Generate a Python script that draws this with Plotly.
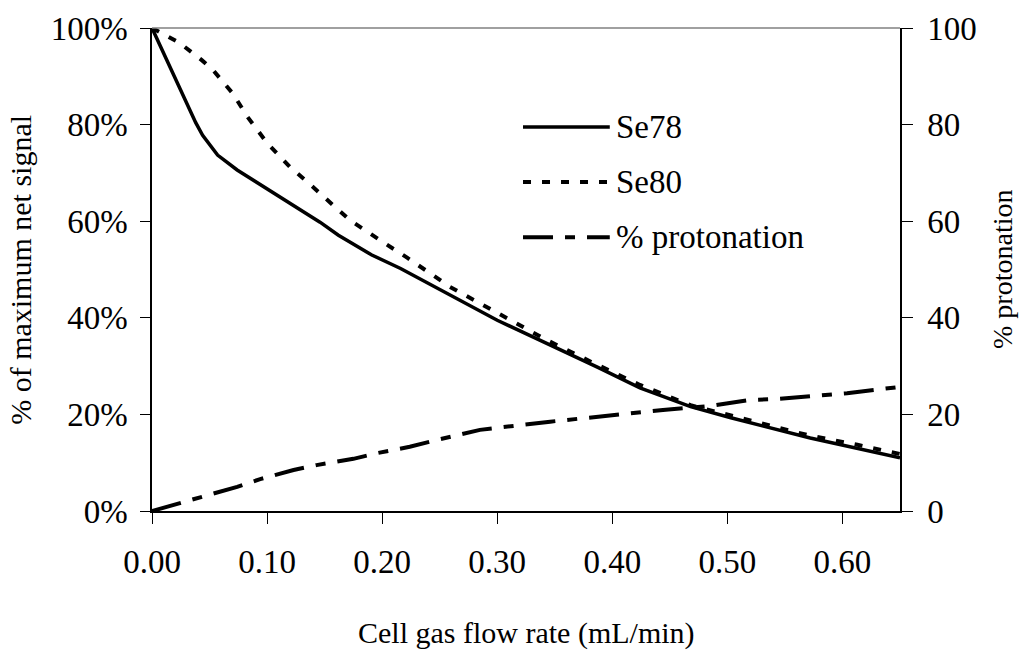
import plotly.graph_objects as go

# ---- data ----
flow_se78 = [0, 0.038, 0.044, 0.057, 0.074, 0.088, 0.114, 0.146, 0.162,
             0.183, 0.191, 0.216, 0.30, 0.387, 0.424, 0.468, 0.503, 0.572, 0.65]
se78 = [100, 80.4, 77.8, 73.7, 70.6, 68.5, 64.8, 59.8, 57.1,
        54.0, 53.0, 50.2, 39.5, 29.8, 25.5, 21.6, 19.3, 15.1, 11.0]

flow_se80 = [0, 0.024, 0.043, 0.053, 0.07, 0.083, 0.1, 0.12, 0.136, 0.155, 0.172,
             0.198, 0.222, 0.259, 0.303, 0.343, 0.384, 0.424, 0.468, 0.491, 0.526,
             0.57, 0.613, 0.65]
se80 = [100, 96.9, 93.4, 91.3, 86.5, 81.6, 76.2, 71.2, 67.9, 63.8, 60.2,
        56.1, 52.4, 46.4, 40.6, 35.4, 30.6, 26.1, 21.9, 20.5, 18.4,
        15.7, 13.7, 11.8]

flow_prot = [0, 0.024, 0.042, 0.074, 0.094, 0.123, 0.143, 0.175, 0.196, 0.224,
             0.244, 0.285, 0.346, 0.424, 0.444, 0.483, 0.52, 0.543, 0.572, 0.604, 0.65]
protonation = [0, 1.6, 2.7, 5.0, 6.6, 8.5, 9.5, 10.8, 12.0, 13.3,
               14.5, 16.8, 18.5, 20.5, 20.9, 21.7, 23.0, 23.2, 23.8, 24.4, 25.7]

x_ticks = [0.0, 0.1, 0.2, 0.3, 0.4, 0.5, 0.6]
x_labels = ["0.00", "0.10", "0.20", "0.30", "0.40", "0.50", "0.60"]
y_ticks = [0, 20, 40, 60, 80, 100]
y_left_labels = ["0%", "20%", "40%", "60%", "80%", "100%"]
y_right_labels = ["0", "20", "40", "60", "80", "100"]

series_names = ["Se78", "Se80", "% protonation"]
x_title = "Cell gas flow rate (mL/min)"
y_left_title = "% of maximum net signal"
y_right_title = "% protonation"

FONT = "Liberation Serif"
DASH78 = "solid"
DASH80 = "8px,11px"
DASHP = "30px,12px,10px,12px"

fig = go.Figure()
fig.add_trace(go.Scatter(x=flow_se78, y=se78, mode="lines", name=series_names[0],
                         line=dict(color="black", width=3.5, dash=DASH78), yaxis="y"))
fig.add_trace(go.Scatter(x=flow_se80, y=se80, mode="lines", name=series_names[1],
                         line=dict(color="black", width=4, dash=DASH80), yaxis="y"))
fig.add_trace(go.Scatter(x=flow_prot, y=protonation, mode="lines", name=series_names[2],
                         line=dict(color="black", width=4, dash=DASHP), yaxis="y2"))

tick_font = dict(family=FONT, size=33, color="black")

fig.update_layout(
    width=1022, height=655,
    margin=dict(l=152, r=122, t=28, b=144),
    paper_bgcolor="white", plot_bgcolor="white",
    showlegend=False,
    font=dict(family=FONT, color="black"),
    xaxis=dict(range=[0, 0.65], tickmode="array", tickvals=x_ticks, ticktext=x_labels,
               ticks="outside", ticklen=11, tickcolor="black", tickwidth=1,
               ticklabelstandoff=10,
               showline=True, linecolor="black", linewidth=1.5,
               showgrid=False, zeroline=False, tickfont=tick_font),
    yaxis=dict(range=[0, 100], tickmode="array", tickvals=y_ticks, ticktext=y_left_labels,
               ticks="outside", ticklen=10, tickcolor="black",
               ticklabelstandoff=6,
               showline=True, linecolor="black", linewidth=1.5,
               showgrid=False, zeroline=False, tickfont=tick_font),
    yaxis2=dict(range=[0, 100], tickmode="array", tickvals=y_ticks, ticktext=y_right_labels,
                overlaying="y", side="right",
                ticks="outside", ticklen=11, tickcolor="black",
                ticklabelstandoff=8,
                showline=True, linecolor="black", linewidth=1.5,
                showgrid=False, zeroline=False, tickfont=tick_font),
)

# top frame line
fig.add_shape(type="line", xref="paper", yref="paper", x0=0, x1=1, y0=1, y1=1,
              line=dict(color="#808080", width=1.5))

# custom legend
leg_y = [0.795, 0.681, 0.567]
leg_dash = [DASH78, DASH80, DASHP]
leg_w = [3.5, 4, 4]
for name, yy, d, w in zip(series_names, leg_y, leg_dash, leg_w):
    fig.add_shape(type="line", xref="paper", yref="paper", x0=0.496, x1=0.612,
                  y0=yy, y1=yy, line=dict(color="black", width=w, dash=d))
    fig.add_annotation(xref="paper", yref="paper", x=0.617, y=yy, text=name,
                       showarrow=False, xanchor="left", yanchor="middle",
                       font=dict(family=FONT, size=33, color="black"))

# axis titles
fig.add_annotation(xref="paper", yref="paper", x=0.5, y=-0.252, text=x_title,
                   showarrow=False, xanchor="center", yanchor="middle",
                   font=dict(family=FONT, size=30, color="black"))
fig.add_annotation(xref="paper", yref="paper", x=-0.176, y=0.5, text=y_left_title,
                   showarrow=False, textangle=-90, xanchor="center", yanchor="middle",
                   font=dict(family=FONT, size=30, color="black"))
fig.add_annotation(xref="paper", yref="paper", x=1.137, y=0.5, text=y_right_title,
                   showarrow=False, textangle=-90, xanchor="center", yanchor="middle",
                   font=dict(family=FONT, size=28, color="black"))

fig.write_html("out.html")
